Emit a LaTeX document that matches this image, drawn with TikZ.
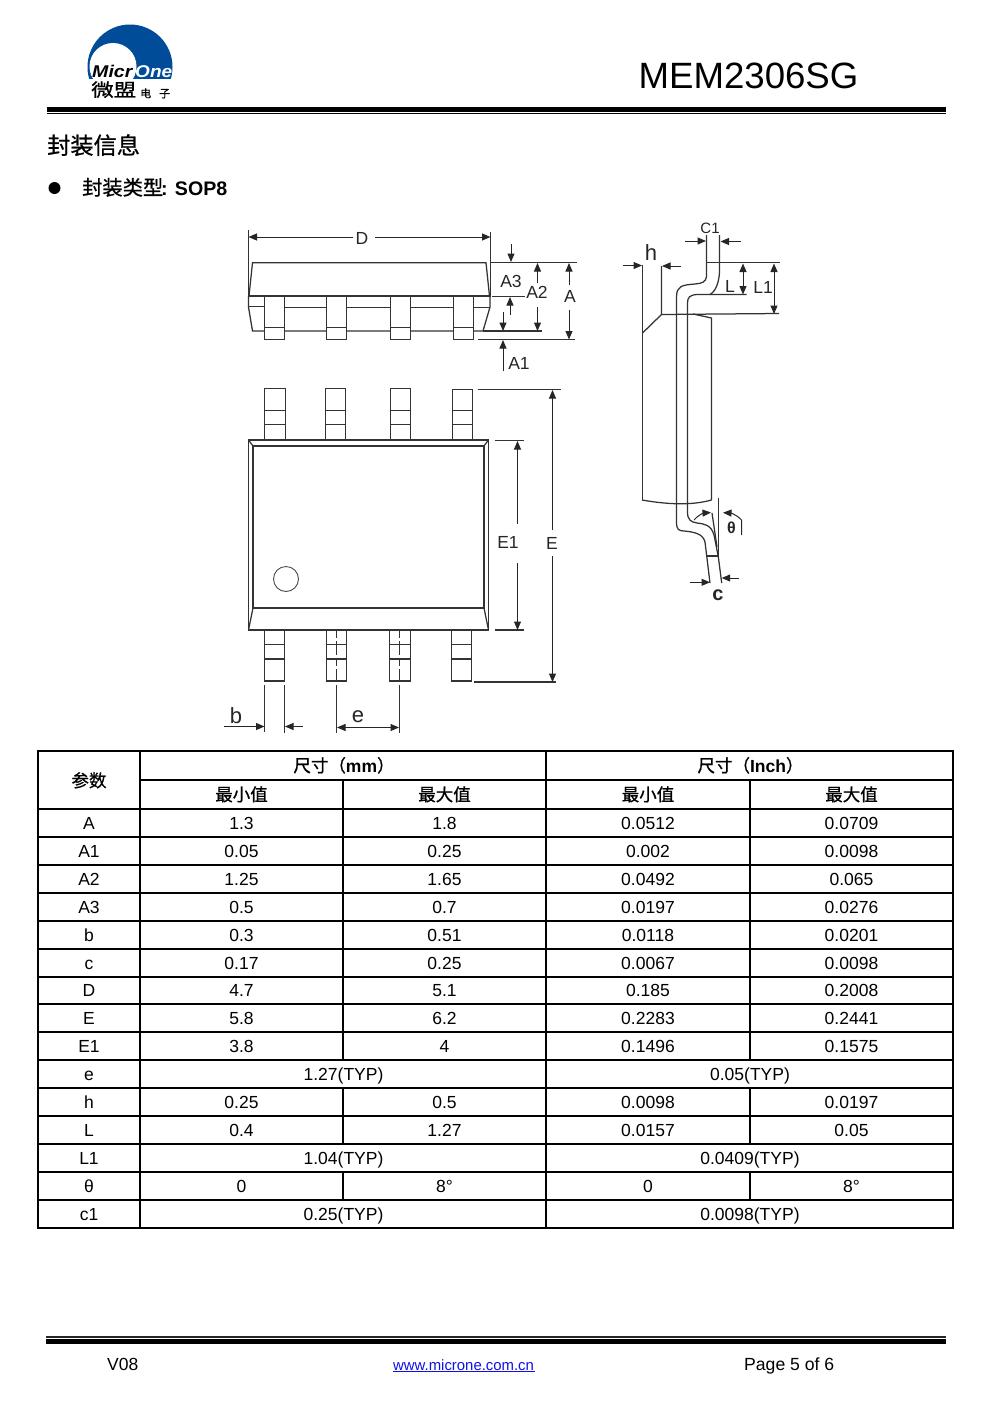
\documentclass[tikz,border=0pt]{standalone}
\usepackage{fontspec}
\setmainfont{Liberation Sans}
\newfontfamily\cjk{Noto Sans CJK SC}
\newfontfamily\cjkm[FakeBold=0.8]{Noto Sans CJK SC}
\usetikzlibrary{arrows.meta}
\newcommand{\fs}[1]{\fontsize{#1}{#1}\selectfont}
\definecolor{logoblue}{RGB}{0,76,153}
\definecolor{linkblue}{RGB}{15,15,235}
\tikzset{
  dl/.style={line width=1.25pt,draw=black!80},
  dimtip/.style={line width=1pt,draw=black!85,-{Triangle[length=8.5pt,width=7pt]}},
  dimlab/.style={inner sep=0pt,font=\fs{17.5},text=black!85},
  celltxt/.style={anchor=base,inner sep=0pt,font=\fs{17.5}},
  headtxt/.style={anchor=base,inner sep=0pt,font=\fs{17.5}\cjkm},
  tabinner/.style={line width=1.5pt},
  tabouter/.style={line width=2pt},
}
\begin{document}
\begin{tikzpicture}[x=1pt,y=-1pt]
\useasboundingbox (0,0) rectangle (991,1403);
\fill[white] (0,0) rectangle (991,1403);
% logo
\begin{scope}
\clip (80,20) rectangle (180,78);
\fill[logoblue] (130,67) circle (42.5);
\fill[white] (113,66.5) circle (23.5);
\end{scope}
\node[anchor=base west,inner sep=0pt,font=\fs{17}\bfseries\itshape,xscale=1.15] (logoa) at (92,77.5) {Micr};
\node[anchor=base west,inner sep=0pt,font=\fs{17}\bfseries\itshape,text=white,xscale=1.12] (logob) at (135,77.5) {One};
\node[anchor=base west,inner sep=0pt,font=\fs{18}\cjkm,xscale=1.25] (logoc) at (91,96.5) {微盟};
\node[anchor=base west,inner sep=0pt,font=\fs{11}\cjkm] (logod) at (140,97.5) {电\hspace{8pt}子};
\node[anchor=base,inner sep=0pt,font=\fs{36.6}] (title) at (748.5,88) {MEM2306SG};
% header rules
\fill (47,106.8) rectangle (946,111.8);
\fill (47,112.8) rectangle (946,114);
\node[anchor=base west,inner sep=0pt,font=\fs{23.2}\cjkm] (sec) at (47,154) {封装信息};
\fill (54.5,188) circle (6);
\node[anchor=base west,inner sep=0pt] (pkg) at (82,195) {{\fs{20.25}\cjkm 封装类型}\hspace{-2pt}{\fs{19.6}\bfseries : SOP8}};
% front view
\draw[dl] (248.5,230) -- (248.5,296) (490.5,232) -- (490.5,296);
\draw[dimtip] (353,237) -- (248.5,237);
\draw[dimtip] (375,237) -- (490.5,237);
\node[dimlab] (labD) at (362,238) {D};
\draw[dl] (249,296) -- (252.5,262.7) -- (486,262.7) -- (489.5,296);
\draw[dl] (248.5,296) -- (490.5,296);
\draw[dl] (248.5,296) -- (248.5,307) -- (252.5,331) -- (483,331) -- (490,307) -- (490,296);
\draw[dl] (248.5,306.5) -- (264,306.5) (284,307.5) -- (327,307.5) (347,307.5) -- (390,307.5) (410,307.5) -- (453,307.5) (473,307.5) -- (490,307.5);
\foreach \i/\xa in {1/264.5,2/326.5,3/390.5,4/453.5}{
  \filldraw[dl,fill=white] (\xa,296) rectangle ++(20,43.5);
  \draw[dl] (\xa,327.3) -- ++(20,0);
}
\draw[dl] (490,262.7) -- (577,262.7) (492,296.5) -- (525,296.5) (483,331) -- (541.7,331) (478,339.5) -- (575,339.5);
\draw[dimtip] (511,244) -- (511,262);
\draw[dimtip] (510,315) -- (510,297);
\draw[dimtip] (503,312) -- (503,331);
\draw[dimtip] (503,371) -- (503,340);
\draw[dimtip] (537.5,283) -- (537.5,263);
\draw[dimtip] (537.5,307) -- (537.5,331);
\draw[dimtip] (569,285) -- (569,263);
\draw[dimtip] (569,310) -- (569,339.5);
\node[dimlab] (labA3) at (511,281) {A3};
\node[dimlab] (labA2) at (537,292) {A2};
\node[dimlab] (labA) at (570,296) {A};
\node[dimlab] (labA1) at (519,363) {A1};
% top view: upper pins
\foreach \i/\xa/\xb/\yt in {1/264.5/285.5/388.5,2/325.5/345.5/388.5,3/390.5/410.5/388.5,4/452.5/472.5/389.5}{
  \draw[dl] (\xa,440) -- (\xa,\yt) -- (\xb,\yt) -- (\xb,440);
  \draw[dl] (\xa,410.5) -- (\xb,410.5) (\xa,424.5) -- (\xb,424.5);
}
% body
\draw[dl] (248.5,440) rectangle (488.5,630);
\draw[dl] (253,446) rectangle (484,608);
\draw[dl] (248.5,440) -- (253,446) (488.5,440) -- (484,446) (248.5,630) -- (253,608) (488.5,630) -- (484,608);
\node[circle,draw=black!70,line width=0.9pt,minimum size=25pt,inner sep=0pt] (dot) at (286,579) {};
% lower pins
\foreach \i/\xa/\xb in {1/264.5/284.5,2/326.5/346.5,3/389.5/410.5,4/451.5/471.5}{
  \draw[dl] (\xa,630) -- (\xa,681) -- (\xb,681) -- (\xb,630);
  \draw[dl] (\xa,644.7) -- (\xb,644.7) (\xa,659) -- (\xb,659);
}
\draw[dl,dash pattern=on 8pt off 3pt on 14pt off 3pt] (336.5,630) -- (336.5,681);
\draw[dl,dash pattern=on 8pt off 3pt on 14pt off 3pt] (399.5,630) -- (399.5,681);
\draw[dl] (264.5,685) -- (264.5,732) (284.5,685) -- (284.5,733) (336.5,685) -- (336.5,733) (399.5,685) -- (399.5,733);
\draw[dimtip] (224,726.5) -- (264.5,726.5);
\draw[dimtip] (303,726.5) -- (285,726.5);
\draw[dimtip] (368,727.5) -- (337,727.5);
\draw[dimtip] (368,727.5) -- (399,727.5);
\node[dimlab,font=\fs{22}] (labb) at (236,715.5) {b};
\node[dimlab,font=\fs{22}] (labe) at (358,716.5) {e};
% E, E1
\draw[dl] (477.7,389.5) -- (561,389.5) (474,682) -- (556,682);
\draw[dl] (495,440.5) -- (524,440.5) (495,630) -- (524,630);
\draw[dimtip] (552.5,530) -- (552.5,390);
\draw[dimtip] (552.5,556) -- (552.5,682);
\draw[dimtip] (517.5,524) -- (517.5,441);
\draw[dimtip] (517.5,563) -- (517.5,630);
\node[dimlab] (labE1) at (508,542) {E1};
\node[dimlab] (labE) at (552,543) {E};
% side view
\draw[dl] (642.5,265) -- (642.5,500);
\draw[dl] (642.5,333) -- (661.5,314.5) -- (661.5,266);
\draw[dl] (661.5,314.5) -- (779,313.5);
\draw[dl] (693,314) -- (711.5,318) -- (711.5,500);
\draw[dl] (642,500) .. controls (665,504) and (690,506) .. (711.5,500);
\draw[dl] (706.5,235) -- (706.5,277) .. controls (705.5,282) and (702,283.5) .. (695,284) .. controls (682,285) and (676.5,286) .. (676.5,297) -- (676.5,522) .. controls (676.5,530) and (679,530.7) .. (684,531) .. controls (695,532) and (703,534) .. (705,542) -- (710,583);
\draw[dl] (719.5,235) -- (719.5,272) .. controls (719,282) and (716,291) .. (710,294.5);
\draw[dl] (746.7,294.5) -- (697,294.5) .. controls (690,295) and (687.5,297) .. (687.5,303) -- (687.5,512) .. controls (687.5,520) and (691,522) .. (697,523) .. controls (705,524) and (711,525) .. (714,535) -- (718.3,556.7) -- (721.7,583);
\draw[dl] (706.7,556) -- (718.3,556);
\draw[dl] (706,262.7) -- (780,262.7);
\draw[dl] (718.5,498) -- (718.5,556);
\draw[dl] (712,513) -- (717,547);
% side dims
\draw[dimtip] (685,241) -- (706,241);
\draw[dimtip] (740.7,241.5) -- (720.5,241.5);
\node[dimlab,font=\fs{15}] (labC1) at (710,228) {C1};
\draw[dimtip] (623,265.5) -- (642,265.5);
\draw[dimtip] (681,266) -- (662,266);
\node[dimlab,font=\fs{22}] (labh) at (651,253) {h};
\draw[dimtip] (743,276) -- (743,263.5);
\draw[dimtip] (743,276) -- (743,294.5);
\node[dimlab] (labL) at (730,286) {L};
\draw[dimtip] (774,285) -- (774,263.5);
\draw[dimtip] (774,285) -- (774,314);
\node[dimlab] (labL1) at (763,287) {L1};
\draw[dimtip] (694,520) .. controls (698,515) and (704,513) .. (711,512.5);
\draw[dimtip] (741.5,535) -- (741.5,520) .. controls (736,514) and (730,513) .. (723,512.7);
\node[dimlab,font=\fs{16}\bfseries] (labt) at (731.5,527.5) {θ};
\draw[dimtip] (690,582.3) -- (710,582.3);
\draw[dimtip] (739,578) -- (721.7,578);
\node[dimlab,font=\fs{20}\bfseries] (labc) at (718,595) {c};
% table grid
\foreach \y in {809,837,865,893,921,949,977,1004,1032,1060,1088,1116,1144,1172,1200}{
  \draw[tabinner] (38,\y) -- (953,\y);
}
\draw[tabinner] (140,780) -- (953,780);
\draw[tabinner] (140,751) -- (140,1228) (546,751) -- (546,1228);
\draw[tabinner] (343,780) -- (343,1060) (343,1088) -- (343,1144) (343,1172) -- (343,1200);
\draw[tabinner] (750,780) -- (750,1060) (750,1088) -- (750,1144) (750,1172) -- (750,1200);
\draw[tabouter] (38,751) rectangle (953,1228);
% table header
\node[headtxt] (hp) at (89,787) {参数};
\node[headtxt] (hmm) at (344,772) {尺寸（{\rmfamily\bfseries mm}）};
\node[headtxt] (hin) at (750.5,772) {尺寸（{\rmfamily\bfseries Inch}）};
\foreach \n/\x/\t in {a/241.5/最小值,b/444.5/最大值,c/648/最小值,d/851.5/最大值}{
  \node[headtxt] (h\n) at (\x,801) {\t};
}
% table rows
\foreach \y/\p/\a/\b/\c/\d in {
 829/A/1.3/1.8/0.0512/0.0709,
 857/A1/0.05/0.25/0.002/0.0098,
 885/A2/1.25/1.65/0.0492/0.065,
 913/A3/0.5/0.7/0.0197/0.0276,
 941/b/0.3/0.51/0.0118/0.0201,
 969/c/0.17/0.25/0.0067/0.0098,
 996/D/4.7/5.1/0.185/0.2008,
 1024/E/5.8/6.2/0.2283/0.2441,
 1052/E1/3.8/4/0.1496/0.1575,
 1108/h/0.25/0.5/0.0098/0.0197,
 1136/L/0.4/1.27/0.0157/0.05,
 1192/θ/0/8°/0/8°}{
  \node[celltxt] (p\y) at (89,\y) {\p};
  \node[celltxt] (a\y) at (241.5,\y) {\a};
  \node[celltxt] (b\y) at (444.5,\y) {\b};
  \node[celltxt] (c\y) at (648,\y) {\c};
  \node[celltxt] (d\y) at (851.5,\y) {\d};
}
\foreach \y/\p/\a/\b in {1080/e/1.27(TYP)/0.05(TYP),1164/L1/1.04(TYP)/0.0409(TYP),1220/c1/0.25(TYP)/0.0098(TYP)}{
  \node[celltxt] (p\y) at (89,\y) {\p};
  \node[celltxt] (m\y) at (343.5,\y) {\a};
  \node[celltxt] (i\y) at (750,\y) {\b};
}
% footer
\fill[black!85] (46,1336) rectangle (946,1337.6);
\fill (46,1338.5) rectangle (946,1344);
\node[anchor=base west,inner sep=0pt,font=\fs{17.5}] (ver) at (107,1370) {V08};
\node[anchor=base west,inner sep=0pt,font=\fs{14.9},text=linkblue] (url) at (393,1370) {www.microne.com.cn};
\draw[linkblue,line width=1pt] (url.base west) ++(0,1.6) -- ++(141.5,0);
\node[anchor=base west,inner sep=0pt,font=\fs{17.6}] (pg) at (744,1370) {Page 5 of 6};
\end{tikzpicture}
\end{document}
